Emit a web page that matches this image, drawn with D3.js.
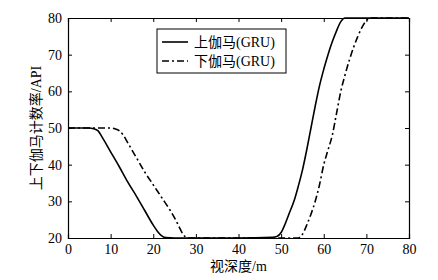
<!DOCTYPE html>
<html>
<head>
<meta charset="utf-8">
<script src="https://cdn.jsdelivr.net/npm/d3@7"></script>
<style>
  body { margin: 0; background: #fff; }
  text { font-family: "Liberation Serif", "Noto Sans CJK SC", serif; fill: #000; }
</style>
</head>
<body>
<div id="chart"></div>
<script>
// depth (m) and gamma count rate (API)
const upDepth = [0, 5, 6, 7, 8, 10, 12, 14, 16, 18, 20, 21, 22, 23, 25, 30, 40, 48, 49, 50, 51, 52, 53, 54, 55, 56, 57, 58, 59, 60, 61, 62, 63, 64, 65, 80];
const upValue = [50, 50, 49.8, 49.3, 47.5, 43.5, 39.5, 35.3, 31.5, 27.5, 23.5, 21.8, 20.6, 20.1, 20, 20, 20, 20.2, 20.4, 21.5, 24, 27, 30, 34, 38.5, 44, 50, 56, 61.5, 66, 70, 73.5, 76.5, 79, 80, 80];

const downDepth = [0, 10, 11, 12, 13, 14, 16, 18, 20, 22, 24, 25, 26, 27, 28, 29, 50, 54, 55, 56, 57, 58, 59, 60, 61, 62, 63, 64, 65, 66, 67, 68, 69, 70, 71, 80];
const downValue = [50, 50, 49.8, 49.3, 48, 46, 42, 38, 34.5, 31, 27.5, 25.5, 23.2, 21, 20.1, 20, 20, 20, 21, 23.5, 26.5, 30, 34.5, 40, 44, 48, 54, 60, 64.5, 68.5, 72, 75, 77.5, 79.3, 80, 80];

const seriesNames = ["上伽马(GRU)", "下伽马(GRU)"];
const xTicks = [0, 10, 20, 30, 40, 50, 60, 70, 80];
const yTicks = [20, 30, 40, 50, 60, 70, 80];

const W = 438, H = 280;
const margin = { left: 68, right: 29, top: 18, bottom: 42 };
const w = W - margin.left - margin.right;
const h = H - margin.top - margin.bottom;

const svg = d3.select("#chart").append("svg")
  .attr("width", W).attr("height", H);
const g = svg.append("g")
  .attr("transform", `translate(${margin.left},${margin.top})`);

const x = d3.scaleLinear().domain([0, 80]).range([0, w]);
const y = d3.scaleLinear().domain([20, 80]).range([h, 0]);

// axes, ticks pointing inward on all four sides
const axB = g.append("g").attr("transform", `translate(0,${h})`)
  .call(d3.axisBottom(x).tickValues(xTicks).tickSize(-4).tickPadding(6));
const axT = g.append("g")
  .call(d3.axisTop(x).tickValues(xTicks).tickSize(-4).tickFormat(""));
const axL = g.append("g")
  .call(d3.axisLeft(y).tickValues(yTicks).tickSize(-4).tickPadding(6));
const axR = g.append("g").attr("transform", `translate(${w},0)`)
  .call(d3.axisRight(y).tickValues(yTicks).tickSize(-4).tickFormat(""));

[axB, axT, axL, axR].forEach(a => {
  a.select(".domain").attr("stroke", "#000").attr("stroke-width", 1.2);
  a.selectAll(".tick line").attr("stroke", "#000");
  a.selectAll("text").style("font-size", "14px")
    .style("font-family", "'Liberation Serif', serif").attr("fill", "#000");
});

const line = d3.line()
  .x(d => x(d[0])).y(d => y(d[1]))
  .curve(d3.curveMonotoneX);

const upData = upDepth.map((d, i) => [d, upValue[i]]);
const downData = downDepth.map((d, i) => [d, downValue[i]]);

g.append("path").datum(upData)
  .attr("d", line).attr("fill", "none")
  .attr("stroke", "#000").attr("stroke-width", 1.6);

g.append("path").datum(downData)
  .attr("d", line).attr("fill", "none")
  .attr("stroke", "#000").attr("stroke-width", 1.6)
  .attr("stroke-dasharray", "7,3,2,3");

// legend
const lg = svg.append("g").attr("transform", "translate(157,29)");
lg.append("rect").attr("width", 129).attr("height", 44)
  .attr("fill", "#fff").attr("stroke", "#000").attr("stroke-width", 1);
const dashes = [null, "7,3,2,3"];
seriesNames.forEach((name, i) => {
  const row = lg.append("g").attr("transform", `translate(0,${13 + i * 19})`);
  row.append("line").attr("x1", 5).attr("x2", 31).attr("y1", 0).attr("y2", 0)
    .attr("stroke", "#000").attr("stroke-width", 1.6)
    .attr("stroke-dasharray", dashes[i]);
  row.append("text").attr("x", 37).attr("y", 5)
    .style("font-size", "14px").text(name);
});

// axis labels
svg.append("text")
  .attr("x", margin.left + w / 2).attr("y", 271)
  .attr("text-anchor", "middle").style("font-size", "14px")
  .text("视深度/m");

svg.append("text")
  .attr("transform", `translate(41,${margin.top + h / 2}) rotate(-90)`)
  .attr("text-anchor", "middle").style("font-size", "14px")
  .text("上下伽马计数率/API");
</script>
</body>
</html>
